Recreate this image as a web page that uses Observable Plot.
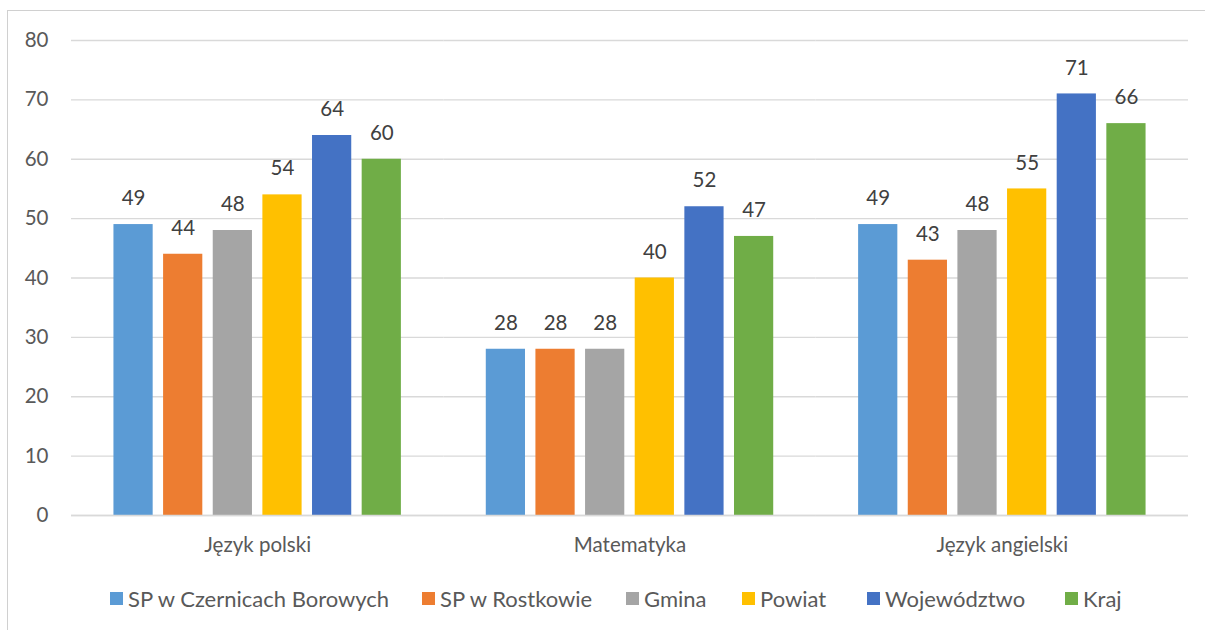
<!DOCTYPE html>
<html><head><meta charset="utf-8">
<script src="https://cdn.jsdelivr.net/npm/d3@7"></script>
<script src="https://cdn.jsdelivr.net/npm/@observablehq/plot@0.6"></script>
<style>
body{margin:0;background:#fff;width:1205px;height:630px;overflow:hidden;position:relative;font-family:Lato,"Open Sans",sans-serif;}
#frame{position:absolute;left:7px;top:10px;width:1210px;height:640px;border:1px solid #d0d0d0;box-sizing:border-box;}
#chart{position:absolute;left:0;top:0;}
#legend{position:absolute;top:585px;left:0;width:1205px;height:24px;}
.li{position:absolute;display:flex;align-items:center;font-size:22px;color:#595959;white-space:nowrap;}
.sw{width:13px;height:13px;margin-right:5px;display:inline-block;}
</style></head><body>
<div id="frame"></div>
<div id="chart"></div>
<div id="legend"></div>
<script>
const subjects = ["Język polski", "Matematyka", "Język angielski"];
const series = ["SP w Czernicach Borowych", "SP w Rostkowie", "Gmina", "Powiat", "Województwo", "Kraj"];
const colors = ["#5B9BD5", "#ED7D31", "#A5A5A5", "#FFC000", "#4472C4", "#70AD47"];
const values = [
  [49, 44, 48, 54, 64, 60],
  [28, 28, 28, 40, 52, 47],
  [49, 43, 48, 55, 71, 66]
];
const yTicks = [0, 10, 20, 30, 40, 50, 60, 70, 80];
const legendX = [110, 422, 626, 742, 867, 1065];

const data = [];
subjects.forEach((s, i) => series.forEach((k, j) => data.push({subject: s, series: k, value: values[i][j]})));

const plot = Plot.plot({
  width: 1205,
  height: 570,
  marginLeft: 71,
  marginRight: 17,
  marginTop: 40,
  marginBottom: 55,
  style: {fontFamily: "Lato, 'Open Sans', sans-serif", background: "transparent"},
  fx: {domain: subjects, padding: 0, round: false, label: null, axis: null},
  x: {domain: series, paddingInner: 0.21, paddingOuter: 0.855, round: false, axis: null},
  y: {domain: [0, 80], ticks: yTicks, label: null, axis: null},
  color: {domain: series, range: colors},
  marks: [
    Plot.ruleY(yTicks, {y: d => d, stroke: "#d9d9d9", strokeWidth: 1.3}),
    Plot.barY(data, {fx: "subject", x: "series", y: "value", fill: "series"}),
    Plot.text(data, {fx: "subject", x: "series", y: "value", text: d => String(d.value), dy: -26, lineAnchor: "middle", fill: "#404040", fontSize: 20.5}),
    Plot.ruleY([0], {stroke: "#d9d9d9", strokeWidth: 1.5}),
    Plot.axisY({ticks: yTicks, tickSize: 0, tickPadding: 23, fontSize: 20.5, color: "#595959", frameAnchor: "left"}),
    Plot.axisFx({anchor: "bottom", tickSize: 0, tickPadding: 22, fontSize: 20.5, color: "#595959", label: null})
  ]
});
document.getElementById("chart").appendChild(plot);

const lg = document.getElementById("legend");
series.forEach((s, i) => {
  const d = document.createElement("div");
  d.className = "li";
  d.style.left = legendX[i] + "px";
  d.innerHTML = `<span class="sw" style="background:${colors[i]}"></span><span>${s}</span>`;
  lg.appendChild(d);
});
</script>
</body></html>
